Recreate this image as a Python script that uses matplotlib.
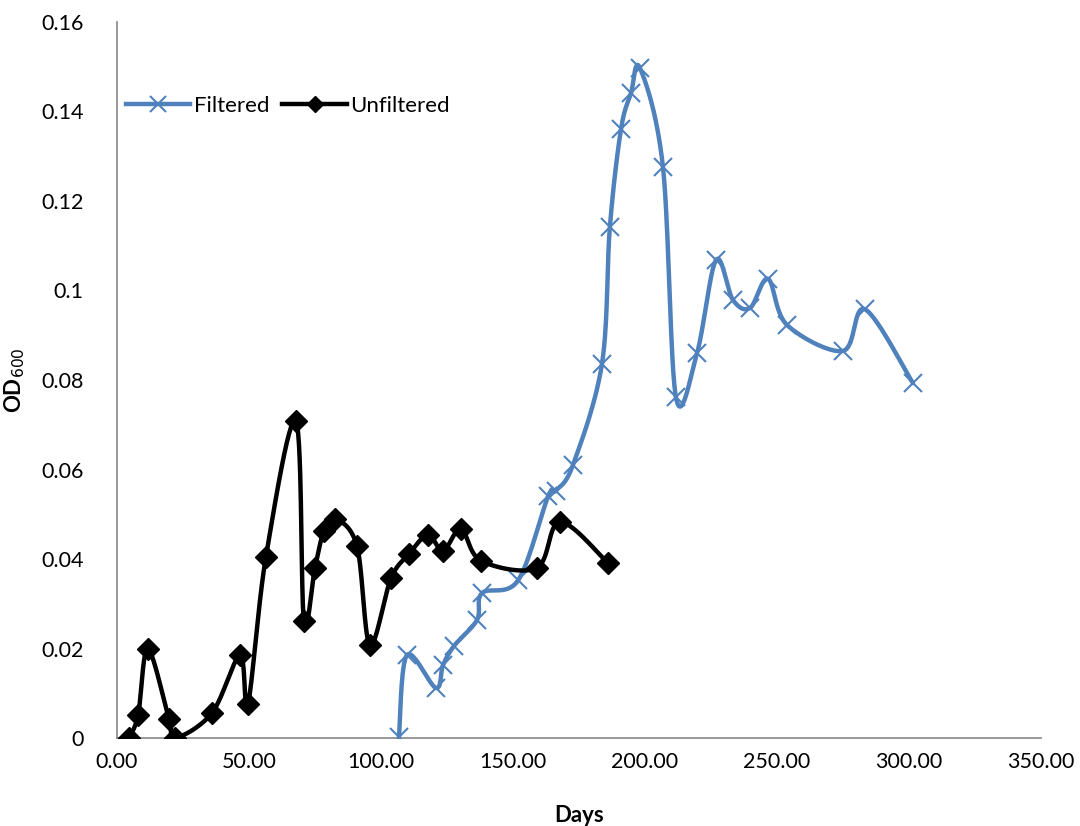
import matplotlib
matplotlib.use("Agg")
import numpy as np
import matplotlib.pyplot as plt
from matplotlib.ticker import FuncFormatter, MultipleLocator

# Unfiltered series (days, OD600)
unf_days = [4.5, 8.0, 11.7, 19.7, 22.0, 36.0, 46.6, 49.6, 56.4, 67.8, 70.8, 75.0,
            78.4, 82.6, 90.9, 95.8, 103.8, 110.6, 117.8, 123.5, 130.3, 137.9,
            159.0, 167.8, 186.0]
unf_od = [0.0, 0.0051, 0.0199, 0.0042, 0.0, 0.0056, 0.0185, 0.0076, 0.0404, 0.0708,
          0.0262, 0.0380, 0.0463, 0.0490, 0.0429, 0.0208, 0.0357, 0.0411, 0.0454,
          0.0418, 0.0467, 0.0396, 0.0380, 0.0483, 0.0391]

# Filtered series (days, OD600)
filt_days = [106.8, 109.8, 120.8, 123.5, 127.7, 136.4, 138.3, 151.9, 163.3, 166.3,
             172.7, 183.7, 186.7, 190.9, 194.7, 198.1, 206.8, 211.7, 219.7, 226.9,
             233.3, 239.8, 246.6, 253.8, 275.0, 283.3, 301.5]
filt_od = [0.0002, 0.0185, 0.0112, 0.0163, 0.0206, 0.0264, 0.0324, 0.0352, 0.0540,
           0.0553, 0.0610, 0.0836, 0.1142, 0.1360, 0.1441, 0.1497, 0.1276, 0.0762,
           0.0860, 0.1068, 0.0979, 0.0961, 0.1026, 0.0923, 0.0865, 0.0958, 0.0793]


def smooth(xs, ys, n=30):
    # Excel-style smoothed line: Bezier segments with Catmull-Rom control points
    p = np.column_stack([xs, ys]).astype(float)
    pts = []
    for i in range(len(p) - 1):
        p0 = p[i - 1] if i > 0 else p[i]
        p1, p2 = p[i], p[i + 1]
        p3 = p[i + 2] if i + 2 < len(p) else p[i + 1]
        c1 = p1 + (p2 - p0) / 6
        c2 = p2 - (p3 - p1) / 6
        t = np.linspace(0, 1, n)[:, None]
        seg = ((1 - t) ** 3) * p1 + 3 * ((1 - t) ** 2) * t * c1 + 3 * (1 - t) * t ** 2 * c2 + t ** 3 * p2
        pts.append(seg if i == 0 else seg[1:])
    s = np.vstack(pts)
    return s[:, 0], s[:, 1]


plt.rcParams['font.family'] = ['Lato', 'DejaVu Sans']

fig = plt.figure(figsize=(10.8, 8.26), dpi=100)
ax = fig.add_axes([0.1083, 0.1065, 0.8556, 0.8669])

blue = '#4F81BD'
fx, fy = smooth(filt_days, filt_od)
ax.plot(fx, fy, color=blue, lw=3.2, solid_capstyle='round', zorder=2)
ax.plot(filt_days, filt_od, ls='none', marker='x', color=blue, ms=13, mew=1.5, zorder=3)

ux, uy = smooth(unf_days, unf_od)
ax.plot(ux, uy, color='black', lw=3.2, solid_capstyle='round', zorder=4)
ax.plot(unf_days, unf_od, ls='none', marker='D', color='black', ms=11, zorder=5)

# legend proxies
ax.plot([], [], color=blue, lw=3.2, marker='x', ms=12, mew=1.5, label='Filtered')
ax.plot([], [], color='black', lw=3.2, marker='D', ms=8, label='Unfiltered')
leg = ax.legend(loc='upper left', bbox_to_anchor=(-0.012, 0.925), ncol=2, frameon=False,
                fontsize=16, handlelength=2.9, handletextpad=0.15, columnspacing=0.6)

ax.set_xlim(0, 350)
ax.set_ylim(0, 0.16)
ax.xaxis.set_major_locator(MultipleLocator(50))
ax.yaxis.set_major_locator(MultipleLocator(0.02))
ax.xaxis.set_major_formatter(FuncFormatter(lambda v, p: f"{v:.2f}"))
ax.yaxis.set_major_formatter(FuncFormatter(lambda v, p: f"{v:.2f}".rstrip('0').rstrip('.') if v else "0"))
ax.tick_params(length=0, labelsize=15.5, pad=10)
ax.tick_params(axis='y', pad=24)

for s in ['top', 'right']:
    ax.spines[s].set_visible(False)
for s in ['left', 'bottom']:
    ax.spines[s].set_color('#868686')
    ax.spines[s].set_linewidth(1.2)

ax.set_xlabel('Days', fontsize=16, fontweight='bold', labelpad=24)
ax.set_ylabel('OD$_{600}$', fontsize=16, fontweight='bold', labelpad=10)

fig.savefig('out.png', dpi=100)
